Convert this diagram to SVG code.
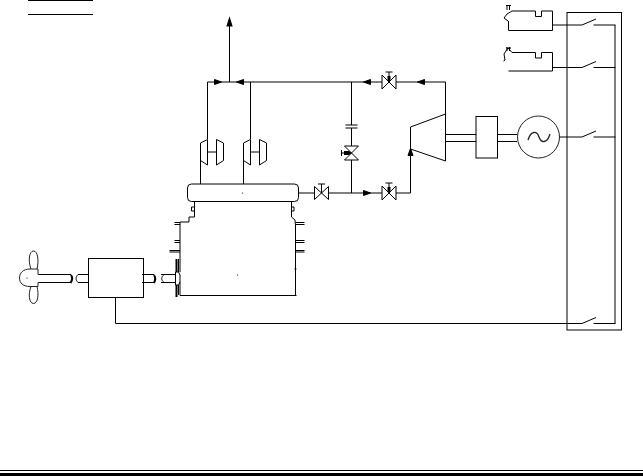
<svg xmlns="http://www.w3.org/2000/svg" width="643" height="476" viewBox="0 0 643 476">
<defs>
<style>
.l{fill:none;stroke:#000;stroke-width:1}
.g{fill:none;stroke:#222;stroke-width:1}
.t{fill:none;stroke:#000;stroke-width:2}
.f{fill:#000;stroke:none}
</style>
<g id="gv"><path d="M-7-7L7,7V-7L-7,7Z" fill="#fff" stroke="#000"/><path d="M0,0V-10M-3.500-10H3.500" fill="none" stroke="#000"/><path d="M-1.500-6H1.500V-2L0,0L-1.500-2Z" fill="#000"/></g>
<g id="sw"><path d="M0,0L14-6M11.500,0H33.500" fill="none" stroke="#000"/></g>
<path id="ar" d="M-3.500-2.500L3.500,0L-3.500,2.500Z" fill="#000"/>
</defs>
<g id="legend" class="l"><path d="M28 .5H93M28 14.500H93"/></g>
<g id="footer"><path d="M0 470.500H643" class="l"/><rect x="0" y="473" width="643" height="3" class="f"/></g>

<g id="connectors" class="l">
<path d="M229.500 82V22M207.500 82H445.500V114"/>
<path d="M207.500 82V139M250.500 82V139"/>
<path d="M200.500 160V184M243.500 160V184"/>
<path d="M298.500 193H410.500V127"/>
<path d="M351.500 82V125M351.500 128V146M351.500 160V193"/>
<path d="M115.500 297.500V323.500H582"/>
<path d="M553 25H582M553 67.500H582M559.500 137H582"/>
<path d="M445.500 134.500H476M445.500 141.500H476M497.500 134.500H517M497.500 141.500H517"/>
<path d="M142 274.500H154M142 282.500H154M161 274.500H175M161 282.500H175"/>
<path d="M40 274.500H71M40 282.500H71M78 274.500H88.500M78 282.500H88.500"/>
<use href="#ar" transform="translate(229.500 22) rotate(-90) scale(1.150 1)"/>
<use href="#ar" transform="translate(218 82)"/>
<use href="#ar" transform="translate(240 82) rotate(180)"/>
<use href="#ar" transform="translate(367 82) rotate(180)"/>
<use href="#ar" transform="translate(421 82) rotate(180)"/>
<use href="#ar" transform="translate(367 193)"/>
<use href="#ar" transform="translate(410.500 152) rotate(-90)"/>
</g>

<g id="valves">
<use href="#gv" x="389" y="82"/>
<use href="#gv" x="389" y="193"/>
<g id="valve-drum"><path d="M314.500 186.500L328.500 199.500V186.500L314.500 199.500Z" fill="#fff" stroke="#000"/><path d="M321.500 193V184M318 184H325" fill="none" stroke="#000"/></g>
<g id="valve-bypass"><path d="M344.500 146H358.500L344.500 160H358.500Z" fill="#fff" stroke="#000"/><path d="M351.500 153H341.500M341.500 150V156" fill="none" stroke="#000"/><path d="M344 151H349L351.500 153L349 155H344Z" fill="#000"/></g>
<g id="orifice" class="l"><path d="M345.500 125H357.500M345.500 128H357.500"/></g>
</g>

<g id="turbine-1" class="l"><path d="M200.500 143L207.500 139.500V165L200.500 160.500ZM216.500 139.500L223.500 143V160.500L216.500 165ZM207.500 152H216.500"/></g>
<g id="turbine-2" class="l"><path d="M243.500 143L250.500 139.500V165L243.500 160.500ZM259.500 139.500L266.500 143V160.500L259.500 165ZM250.500 152H259.500"/></g>

<g id="drum"><rect x="187.500" y="184" width="111" height="17.500" rx="4" class="l"/><circle cx="242.500" cy="193" r=".6" class="f"/></g>

<g id="boiler" class="l">
<path d="M194.500 201.500V217H189V222H180V272M180 282V295.500H295.500V226L295 220L291.500 217V201.500"/>
<path d="M191.500 207H194.500V211H191.500ZM291.500 207H294V211H291.500Z"/>
<path d="M174.500 222.500H180M174.500 224.500H180M174.500 240.500H180M174.500 242.500H180M169.500 250.500H180M169.500 252H180"/>
<path d="M295.500 222.500H304.500M295.500 224.500H304.500M295.500 240.500H304.500M295.500 242.500H304.500M295.500 250.500H304.500M295.500 252H304.500"/>
<path d="M294.500 269H296.500M294.500 295.500H296.500"/>
<circle cx="237.500" cy="275" r=".6" class="f"/>
<path class="t" d="M176.500 259V272M176.500 285V297"/>
<path d="M175.500 272H178.500L180 275V282L178.500 285H175.500Z"/>
<path d="M178.500 259V272M178.500 285V295"/>
</g>

<g id="gearbox"><rect x="88.500" y="258.500" width="55" height="39" class="l"/></g>

<g id="shaft-breaks">
<path class="t" d="M71 275C72.500 277 72.500 280 70.500 283M154 275C155.500 277 155.500 280 154 283"/>
<path class="l" d="M78 274.500C75.500 277 75.500 280 78 282.500M164 274.500C161 277 161 280 164 282.500"/>
</g>

<g id="propeller" class="g">
<path d="M38 269H30C23 269 19.500 273 19.500 278C19.500 283 23 286.500 30 286.500H38M38 269V274.500H40M38 286.500V282.500H40"/>
<path d="M31 269C28 261 29 251 33.500 251C38 251 39 261 37 269"/>
<path d="M31 286.500C28 294 29 303.500 33.500 303.500C38 303.500 39 294 37 286.500"/>
<circle cx="27" cy="278" r=".6" class="f"/>
</g>

<g id="turbine-main" class="l"><path d="M410.500 127L445.500 114V161L410.500 149"/></g>
<g id="reduction-gear"><rect x="476" y="116.500" width="21.500" height="41.500" class="l"/></g>
<g id="generator" class="g"><circle cx="538.500" cy="137" r="21"/><path d="M528 140C531 130 537 131 539 137C541 143 547 144 550 134" stroke-width="1.300"/></g>

<g id="diesel-1" class="l"><path d="M508.500 21V30.500H552.500V11H541.500V16.500H535.500V11H512M512 11L507 14L504 18L508 21M506 5.500H511M507 5.500V10M509.500 5.500V10"/></g>
<g id="diesel-2" class="l"><path d="M508.500 71H552.500V52.500H541.500V58H535.500V52.500H512L508 48L504 54L505 60L503.500 61M506 48H511M507 47V51M509.500 47V51"/></g>

<g id="switchboard"><rect x="567" y="12.500" width="54.500" height="317.500" class="l"/><path d="M615 25V323.500" class="l"/>
<use href="#sw" x="582" y="25"/><use href="#sw" x="582" y="67.500"/><use href="#sw" x="582" y="137"/><use href="#sw" x="582" y="323.500"/></g>
</svg>
